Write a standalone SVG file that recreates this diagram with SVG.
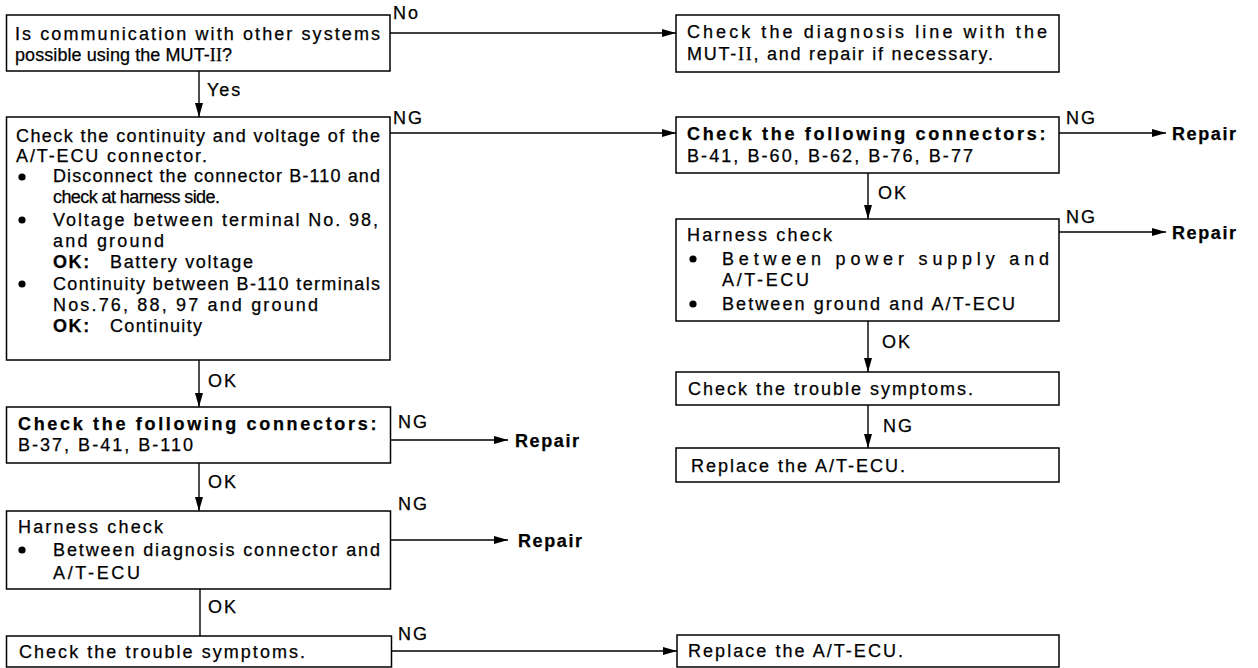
<svg xmlns="http://www.w3.org/2000/svg" width="1258" height="668" viewBox="0 0 1258 668">
<style>
.t{font-family:"Liberation Sans",Arial,Helvetica,sans-serif;font-size:18px;fill:#000;stroke:#000;stroke-width:0.25;letter-spacing:2px}
.j{letter-spacing:0}
.b{font-weight:bold;letter-spacing:1.6px}
.r{font-family:"Liberation Serif","Times New Roman",serif}
.box{fill:#fff;stroke:#000;stroke-width:1.5}
.ln{stroke:#000;stroke-width:1.4;fill:none}
.arr{marker-end:url(#ah)}
.dot{fill:#000}
</style>
<defs>
<marker id="ah" markerWidth="14" markerHeight="8" refX="14" refY="4" orient="auto" markerUnits="userSpaceOnUse"><path d="M0,0 L14,4 L0,8 z" fill="#000"/></marker>
</defs>
<rect width="1258" height="668" fill="#fff"/>

<g id="connectors">
<line class="ln arr" x1="390" y1="33" x2="676" y2="33"/>
<text class="t" x="393" y="19">No</text>
<line class="ln arr" x1="199" y1="71" x2="199" y2="117"/>
<text class="t" x="207" y="96">Yes</text>
<line class="ln arr" x1="390" y1="133" x2="676" y2="133"/>
<text class="t" x="393" y="124">NG</text>
<line class="ln arr" x1="199" y1="360" x2="199" y2="407"/>
<text class="t" x="208" y="387">OK</text>
<line class="ln arr" x1="391" y1="440" x2="508" y2="440"/>
<text class="t" x="398" y="428">NG</text>
<line class="ln arr" x1="199" y1="463" x2="199" y2="511"/>
<text class="t" x="208" y="488">OK</text>
<line class="ln arr" x1="391" y1="540" x2="508" y2="540"/>
<text class="t" x="398" y="510">NG</text>
<line class="ln" x1="200" y1="589" x2="200" y2="636"/>
<text class="t" x="208" y="613">OK</text>
<line class="ln arr" x1="392" y1="651" x2="677" y2="651"/>
<text class="t" x="398" y="640">NG</text>
<line class="ln arr" x1="1059" y1="133" x2="1166" y2="133"/>
<text class="t" x="1066" y="124">NG</text>
<line class="ln arr" x1="868" y1="173" x2="868" y2="219"/>
<text class="t" x="878" y="199">OK</text>
<line class="ln arr" x1="1059" y1="232" x2="1166" y2="232"/>
<text class="t" x="1066" y="223">NG</text>
<line class="ln arr" x1="868" y1="321" x2="868" y2="372"/>
<text class="t" x="882" y="348">OK</text>
<line class="ln arr" x1="868" y1="405" x2="868" y2="448"/>
<text class="t" x="883" y="432">NG</text>
</g>

<g id="n1">
<rect class="box" x="6.5" y="15" width="383.5" height="56"/>
<text class="t j" x="15" y="40" textLength="365" lengthAdjust="spacing">Is communication with other systems</text>
<text class="t j" x="15" y="61" textLength="217" lengthAdjust="spacing">possible using the MUT-<tspan class="r">II</tspan>?</text>
</g>

<g id="n2">
<rect class="box" x="6.5" y="117" width="383.5" height="243"/>
<text class="t j" x="16" y="142" textLength="364" lengthAdjust="spacing">Check the continuity and voltage of the</text>
<text class="t j" x="16" y="162" textLength="191" lengthAdjust="spacing">A/T-ECU  connector.</text>
<circle class="dot" cx="22" cy="177" r="3.6"/>
<text class="t j" x="53" y="182" textLength="327" lengthAdjust="spacing">Disconnect the connector B-110 and</text>
<text class="t j" x="53" y="203" textLength="167" lengthAdjust="spacing">check at harness side.</text>
<circle class="dot" cx="22" cy="220" r="3.6"/>
<text class="t j" x="53" y="226" textLength="325" lengthAdjust="spacing">Voltage between terminal No. 98,</text>
<text class="t j" x="53" y="247" textLength="111" lengthAdjust="spacing">and ground</text>
<text class="t b" x="53" y="268">OK:</text>
<text class="t j" x="110" y="268" textLength="143" lengthAdjust="spacing">Battery voltage</text>
<circle class="dot" cx="22" cy="284" r="3.6"/>
<text class="t j" x="53" y="290" textLength="327" lengthAdjust="spacing">Continuity between B-110 terminals</text>
<text class="t j" x="53" y="311" textLength="265" lengthAdjust="spacing">Nos.76, 88, 97 and ground</text>
<text class="t b" x="53" y="332">OK:</text>
<text class="t j" x="110" y="332" textLength="92" lengthAdjust="spacing">Continuity</text>
</g>

<g id="n3">
<rect class="box" x="6.5" y="407" width="384" height="56"/>
<text class="t b j" x="18" y="430" textLength="360" lengthAdjust="spacing">Check the following connectors:</text>
<text class="t j" x="18" y="451" textLength="175" lengthAdjust="spacing">B-37, B-41, B-110</text>
</g>

<g id="n4">
<rect class="box" x="6.5" y="511" width="384" height="78"/>
<text class="t j" x="18" y="533" textLength="145" lengthAdjust="spacing">Harness check</text>
<circle class="dot" cx="22" cy="550" r="3.6"/>
<text class="t j" x="53" y="556" textLength="327" lengthAdjust="spacing">Between diagnosis connector and</text>
<text class="t j" x="53" y="579" textLength="87" lengthAdjust="spacing">A/T-ECU</text>
</g>

<g id="n5">
<rect class="box" x="6.5" y="636" width="385" height="31"/>
<text class="t j" x="19" y="658" textLength="286" lengthAdjust="spacing">Check the trouble symptoms.</text>
</g>

<g id="rep1"><text class="t b" x="515" y="447">Repair</text></g>
<g id="rep2"><text class="t b" x="518" y="547">Repair</text></g>

<g id="n6">
<rect class="box" x="677" y="635" width="382" height="32"/>
<text class="t j" x="688" y="657" textLength="215" lengthAdjust="spacing">Replace the A/T-ECU.</text>
</g>

<g id="r1">
<rect class="box" x="676" y="15" width="383" height="57"/>
<text class="t j" x="687" y="38" textLength="360" lengthAdjust="spacing">Check the diagnosis line with the</text>
<text class="t j" x="687" y="60" textLength="306" lengthAdjust="spacing">MUT-<tspan class="r">II</tspan>, and repair if necessary.</text>
</g>

<g id="r2">
<rect class="box" x="676" y="117" width="383" height="56"/>
<text class="t b j" x="687" y="140" textLength="360" lengthAdjust="spacing">Check the following connectors:</text>
<text class="t j" x="687" y="162" textLength="286" lengthAdjust="spacing">B-41, B-60, B-62, B-76, B-77</text>
</g>

<g id="rep3"><text class="t b" x="1172" y="140">Repair</text></g>

<g id="r3">
<rect class="box" x="676" y="219" width="383" height="102"/>
<text class="t j" x="687" y="241" textLength="145" lengthAdjust="spacing">Harness check</text>
<circle class="dot" cx="693" cy="259" r="3.6"/>
<text class="t j" x="722" y="265" textLength="327" lengthAdjust="spacing">Between power supply and</text>
<text class="t j" x="722" y="286" textLength="87" lengthAdjust="spacing">A/T-ECU</text>
<circle class="dot" cx="693" cy="304" r="3.6"/>
<text class="t j" x="722" y="310" textLength="293" lengthAdjust="spacing">Between ground and A/T-ECU</text>
</g>

<g id="rep4"><text class="t b" x="1172" y="239">Repair</text></g>

<g id="r4">
<rect class="box" x="676" y="372" width="383" height="33"/>
<text class="t j" x="688" y="395" textLength="285" lengthAdjust="spacing">Check the trouble symptoms.</text>
</g>

<g id="r5">
<rect class="box" x="676" y="448" width="383" height="34"/>
<text class="t j" x="691" y="472" textLength="214" lengthAdjust="spacing">Replace the A/T-ECU.</text>
</g>
</svg>
